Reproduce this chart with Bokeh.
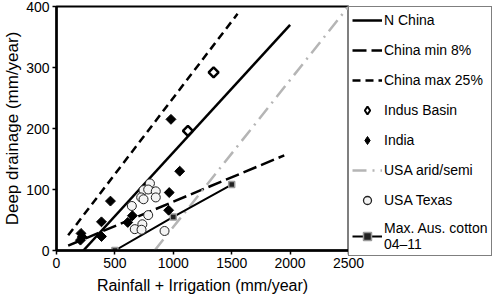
import math
from bokeh.plotting import figure
from bokeh.models import Range1d, Legend, LegendItem
from bokeh.embed import file_html
from bokeh.resources import INLINE

# ---- data ----
nchina_x = [230, 2000]
nchina_y = [0, 370]
chmin_x = [100, 1950]
chmin_y = [8, 156]
chmax_x = [100, 1550]
chmax_y = [25, 388]
usa_arid_x = [840, 2500]
usa_arid_y = [0, 400]
aus_x = [500, 1000, 1500]
aus_y = [0, 55, 108]
indus_x = [1125, 1345]
indus_y = [196, 292]
india_x = [980, 1055, 965, 960, 650, 610, 462, 385, 385, 210, 220, 205]
india_y = [215, 130, 95, 66, 57, 46, 81, 47, 23, 28, 22, 17]
texas_x = [800, 745, 785, 850, 725, 745, 850, 645, 785, 735, 670, 728, 925]
texas_y = [110, 99, 100, 97, 87, 84, 87, 73, 58, 43, 35, 34, 32]
x_ticks = [0, 500, 1000, 1500, 2000, 2500]
y_ticks = [0, 100, 200, 300, 400]

FONT = "Liberation Sans"

p = figure(frame_width=292, frame_height=244, output_backend="svg", toolbar_location=None,
           x_range=Range1d(0, 2500), y_range=Range1d(0, 400),
           min_border_left=52, min_border_top=6, min_border_bottom=48, min_border_right=0)
p.xgrid.visible = False
p.ygrid.visible = False
p.outline_line_color = "black"
p.outline_line_width = 2
p.background_fill_color = "white"
p.border_fill_color = "white"

for ax in (p.xaxis[0], p.yaxis[0]):
    ax.axis_line_width = 2.5
    ax.axis_line_color = "black"
    ax.major_tick_out = 4
    ax.major_tick_in = 0
    ax.minor_tick_line_color = None
    ax.major_tick_line_width = 1.5
    ax.major_label_text_font = FONT
    ax.major_label_text_font_size = "14px"
    ax.major_label_text_color = "black"
    ax.axis_label_text_font = FONT
    ax.axis_label_text_font_style = "normal"
    ax.axis_label_text_color = "black"
p.xaxis.axis_label_text_font_size = "16px"
p.yaxis.axis_label_text_font_size = "17px"
p.xaxis.ticker = x_ticks
p.yaxis.ticker = y_ticks
p.xaxis.axis_label = "Rainfall + Irrigation (mm/year)"
p.yaxis.axis_label = "Deep drainage (mm/year)"
p.xaxis.major_label_standoff = 3
p.yaxis.major_label_standoff = 3
p.xaxis.axis_label_standoff = 6
p.yaxis.axis_label_standoff = 1

r_nchina = p.line(nchina_x, nchina_y, line_color="black", line_width=2.5)
r_chmin = p.line(chmin_x, chmin_y, line_color="black", line_width=2.5, line_dash="14 5")
r_chmax = p.line(chmax_x, chmax_y, line_color="black", line_width=2.5, line_dash="8 5")
r_arid = p.line(usa_arid_x, usa_arid_y, line_color="#b5b5b5", line_width=2.5, line_dash="14 6 2 6")
r_aus_l = p.line(aus_x, aus_y, line_color="black", line_width=2)
r_aus_m = p.scatter(aus_x, aus_y, marker="square", size=6, fill_color="#222222",
                    line_color="#999999", line_width=1.5)
r_indus = p.scatter(indus_x, indus_y, marker="square", angle=math.pi / 4, size=7,
                    fill_color="white", line_color="black", line_width=2.5)
r_india = p.scatter(india_x, india_y, marker="square", angle=math.pi / 4, size=7,
                    fill_color="black", line_color="black", line_width=1)
r_texas = p.scatter(texas_x, texas_y, marker="circle", size=9,
                    fill_color="#f4f4f4", line_color="#222222", line_width=1)

# hidden twins of the marker series, used only for their legend swatches
lg_indus = p.scatter(indus_x, indus_y, marker="diamond", size=8, visible=False,
                     fill_color="white", line_color="black", line_width=2)
lg_india = p.scatter(india_x, india_y, marker="diamond", size=8, visible=False,
                     fill_color="black", line_color="black", line_width=1)
lg_texas = p.scatter(texas_x, texas_y, marker="circle", size=5.5, visible=False,
                     fill_color="#f4f4f4", line_color="#222222", line_width=1.3)

legend = Legend(items=[
    LegendItem(label="N China", renderers=[r_nchina]),
    LegendItem(label="China min 8%", renderers=[r_chmin]),
    LegendItem(label="China max 25%", renderers=[r_chmax]),
    LegendItem(label="Indus Basin", renderers=[lg_indus]),
    LegendItem(label="India", renderers=[lg_india]),
    LegendItem(label="USA arid/semi", renderers=[r_arid]),
    LegendItem(label="USA Texas", renderers=[lg_texas]),
    LegendItem(label="Max. Aus. cotton\n04\u201311", renderers=[r_aus_l, r_aus_m]),
], location="top_left")
legend.margin = 0
legend.padding = 3
legend.spacing = 10
legend.glyph_width = 30
legend.glyph_height = 20
legend.label_height = 20
legend.label_standoff = 2
legend.label_text_font = FONT
legend.label_text_font_size = "14px"
legend.label_text_color = "black"
legend.border_line_color = "black"
legend.border_line_width = 1
legend.background_fill_color = "white"
legend.background_fill_alpha = 1
legend.inactive_fill_alpha = 0
p.add_layout(legend, "right")

open("out.html", "w").write(file_html(p, INLINE))
